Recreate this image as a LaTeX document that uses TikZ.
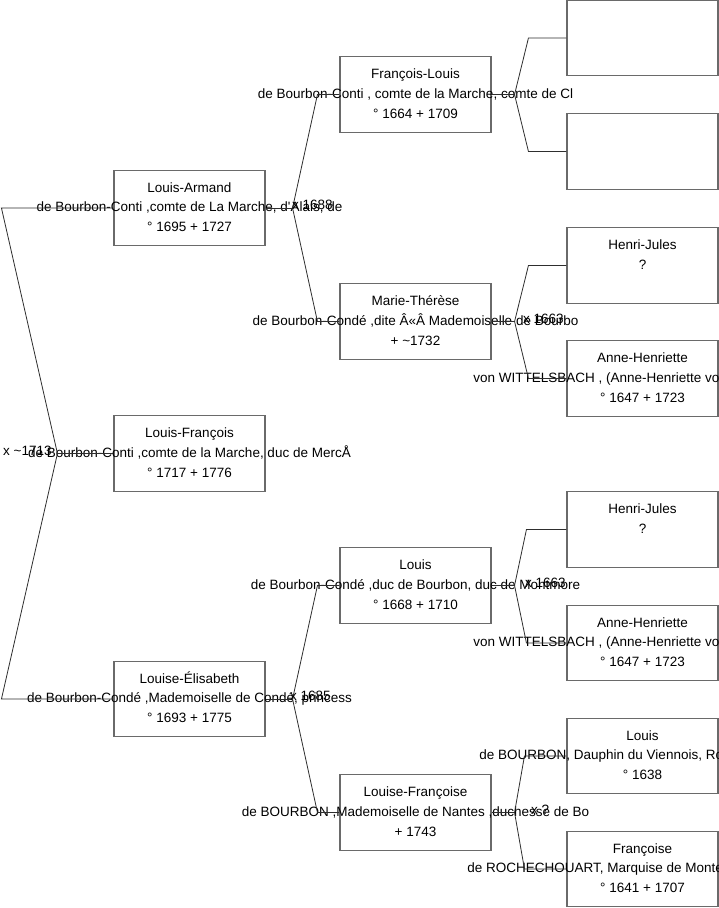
\documentclass[tikz,border=0pt]{standalone}
\usepackage{fontspec}
\setmainfont{Liberation Sans}
\usepackage{tikz}
\definecolor{boxgrey}{HTML}{6A6A6A}
\definecolor{linkgrey}{HTML}{2E2E2E}
% three lines of a person card, the middle one may run over the frame
\newcommand{\pers}[3]{\strut#1\\\strut\makebox[0pt]{#2}\\\strut#3}

\begin{document}
\begin{tikzpicture}[x=1pt, y=-1pt,
    box/.style={draw=boxgrey, line width=1.1pt, minimum width=151pt, minimum height=75.5pt, inner sep=0pt, align=center, font=\fontsize{13.5}{19.8}\selectfont},
    wed/.style={anchor=base west, inner sep=0pt, font=\fontsize{13.5}{19.8}\selectfont},
    link/.style={draw=linkgrey, line width=0.8pt}
]
\path[use as bounding box, fill=white] (0,0) rectangle (719,908);

% ---- generation 1 ----
\node[box] (la) at (189.5,208) {\pers{Louis-Armand}{de Bourbon-Conti ,comte de La Marche, d\textquotesingle Alais, de}{° 1695 + 1727}};
\node[box] (lfc) at (189.5,453.5) {\pers{Louis-François}{de Bourbon-Conti ,comte de la Marche, duc de MercÅ}{° 1717 + 1776}};
\node[box] (le) at (189.5,699) {\pers{Louise-Élisabeth}{de Bourbon-Condé ,Mademoiselle de Condé, princess}{° 1693 + 1775}};

% ---- generation 2 ----
\node[box] (fl) at (415.5,94.5) {\pers{François-Louis}{de Bourbon-Conti , comte de la Marche, comte de Cl}{° 1664 + 1709}};
\node[box] (mt) at (415.5,321.5) {\pers{Marie-Thérèse}{de Bourbon-Condé ,dite Â«Â Mademoiselle de Bourbo}{+ \textasciitilde1732}};
\node[box] (lo) at (415.5,585.5) {\pers{Louis}{de Bourbon-Condé ,duc de Bourbon, duc de Montmore}{° 1668 + 1710}};
\node[box] (lfr) at (415.5,812.5) {\pers{Louise-Françoise}{de BOURBON ,Mademoiselle de Nantes ,duchesse de Bo}{+ 1743}};

% ---- generation 3 ----
\node[box] (e1) at (642.5,38) {};
\node[box] (e2) at (642.5,151.5) {};
\node[box] (hj1) at (642.5,265.5) {\pers{Henri-Jules}{?}{}};
\node[box] (ah1) at (642.5,378.5) {\pers{Anne-Henriette}{von WITTELSBACH , (Anne-Henriette von Pfalz-Simmer}{° 1647 + 1723}};
\node[box] (hj2) at (642.5,529.5) {\pers{Henri-Jules}{?}{}};
\node[box] (ah2) at (642.5,643) {\pers{Anne-Henriette}{von WITTELSBACH , (Anne-Henriette von Pfalz-Simmer}{° 1647 + 1723}};
\node[box] (lb) at (642.5,756) {\pers{Louis}{de BOURBON, Dauphin du Viennois, Roi de France et}{° 1638}};
\node[box] (fr) at (642.5,869) {\pers{Françoise}{de ROCHECHOUART, Marquise de Montespan, (Athénaïs}{° 1641 + 1707}};

% ---- forks ----
\coordinate (xlfc) at ([xshift=-56]lfc.west);
\draw[link] (lfc.west) -- (xlfc);
\draw[link] (la.west) -- ++(-112,0) -- (xlfc) -- ([xshift=-112]le.west) -- (le.west);

\coordinate (xla) at ([xshift=27]la.east);
\draw[link] (la.east) -- (xla);
\draw[link] (fl.west) -- ++(-22,0) -- (xla) -- ([xshift=-22]mt.west) -- (mt.west);

\coordinate (xle) at ([xshift=27]le.east);
\draw[link] (le.east) -- (xle);
\draw[link] (lo.west) -- ++(-22,0) -- (xle) -- ([xshift=-22]lfr.west) -- (lfr.west);

\coordinate (xfl) at ([xshift=23]fl.east);
\draw[link] (fl.east) -- (xfl);
\draw[link] (e1.west) -- ++(-38,0) -- (xfl) -- ([xshift=-38]e2.west) -- (e2.west);

\coordinate (xmt) at ([xshift=23]mt.east);
\draw[link] (mt.east) -- (xmt);
\draw[link] (hj1.west) -- ++(-38,0) -- (xmt) -- ([xshift=-38]ah1.west) -- (ah1.west);

\coordinate (xlo) at ([xshift=23]lo.east);
\draw[link] (lo.east) -- (xlo);
\draw[link] (hj2.west) -- ++(-40,0) -- (xlo) -- ([xshift=-40]ah2.west) -- (ah2.west);

\coordinate (xlfr) at ([xshift=23]lfr.east);
\draw[link] (lfr.east) -- (xlfr);
\draw[link] (lb.west) -- ++(-42,0) -- (xlfr) -- ([xshift=-42]fr.west) -- (fr.west);

% ---- marriages ----
\node[wed] (w1) at (3,455.5) {x \textasciitilde1713};
\node[wed] (w2) at (292,209.5) {x 1688};
\node[wed] (w3) at (290,700.5) {x 1685};
\node[wed] (w4) at (523,323) {x 1663};
\node[wed] (w5) at (525,587) {x 1663};
\node[wed] (w6) at (531,814) {x ?};
\end{tikzpicture}
\end{document}
